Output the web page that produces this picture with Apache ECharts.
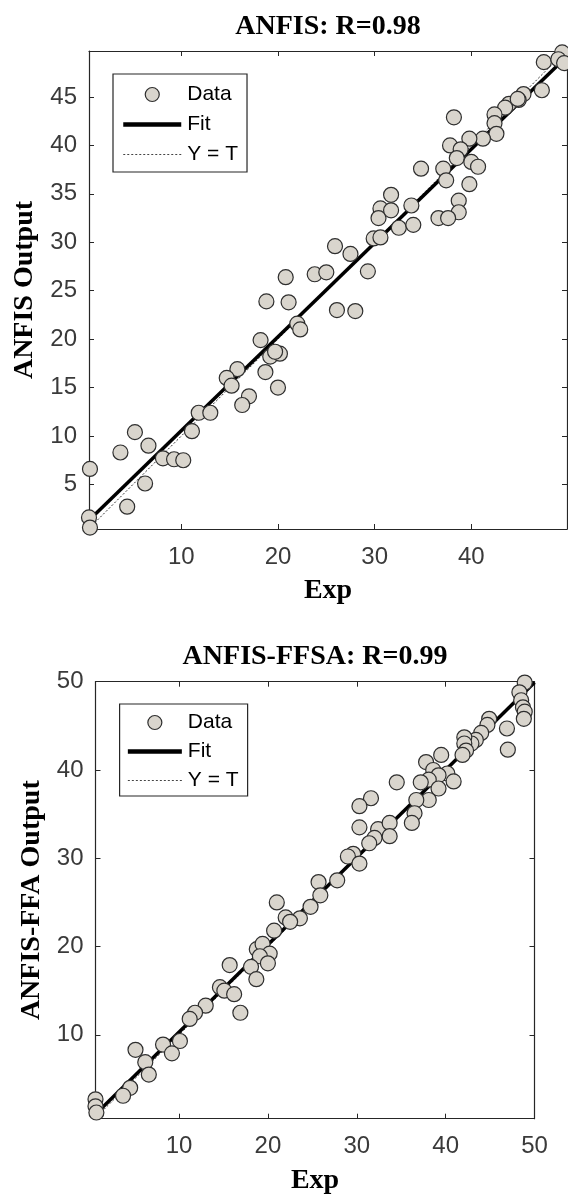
<!DOCTYPE html>
<html>
<head>
<meta charset="utf-8">
<script src="https://cdn.jsdelivr.net/npm/echarts@6/dist/echarts.min.js"></script>
<style>
html,body{margin:0;padding:0;background:#fff;}
#chart{width:568px;height:1198px;}
</style>
</head>
<body>
<div id="chart"></div>
<script>
// ---------- Data ----------
const topTitle = 'ANFIS: R=0.98';
const botTitle = 'ANFIS-FFSA: R=0.99';
const topYName = 'ANFIS Output';
const botYName = 'ANFIS-FFA Output';
const xName = 'Exp';
const legendNames = ['Data', 'Fit', 'Y = T'];

const topExp = [49.4,47.5,49.0,49.6,47.3,45.4,44.9,43.9,43.5,42.4,42.4,42.6,41.2,39.8,38.2,37.8,38.9,38.5,40.0,40.7,37.1,34.8,37.4,39.8,38.7,38.7,36.6,37.6,31.7,30.6,30.4,31.7,33.8,32.5,34.0,29.9,30.6,25.9,27.5,29.3,23.8,25.0,20.8,18.8,21.1,26.1,28.0,22.0,22.3,18.2,19.2,20.2,19.7,18.7,20.0,15.8,14.7,15.2,17.0,16.3,11.8,13.0,11.1,5.2,6.6,8.1,9.25,10.2,3.7,0.55,6.25,4.4,0.45,0.55,44.8];
const topOut = [49.6,48.6,48.9,48.5,45.7,45.3,44.7,44.3,43.9,43.2,42.3,41.2,40.7,40.7,42.9,40.0,39.6,38.7,38.3,37.8,37.6,37.6,36.4,36.0,34.3,33.1,32.5,32.5,34.9,33.5,32.5,33.3,33.8,31.5,31.8,30.4,30.5,29.6,28.8,27.0,26.7,26.9,26.4,23.9,23.8,23.0,22.9,21.6,21.0,19.9,18.2,18.5,18.7,16.6,15.0,16.9,16.0,15.2,14.1,13.2,12.4,12.4,10.5,10.4,9.0,7.7,7.6,7.5,8.3,6.6,5.1,2.7,1.6,0.55,44.8];

const botExp = [48.9,48.3,48.5,48.7,48.9,48.8,46.9,47.0,44.9,44.7,44.0,43.4,42.9,42.1,42.1,42.3,41.9,39.5,37.8,38.6,40.2,39.2,40.9,38.1,37.2,39.2,38.1,36.7,36.5,36.2,34.5,31.6,30.3,30.3,32.4,33.7,33.7,32.0,31.4,29.6,29.0,30.3,27.8,25.7,25.9,21.0,24.8,22.0,23.6,22.5,20.7,18.75,19.4,20.2,19.1,20.0,18.1,18.7,15.7,14.6,15.1,16.2,16.9,13.0,11.8,11.2,10.1,8.2,9.2,5.1,6.2,6.6,4.5,3.7,0.6,0.6,0.7];
const botOut = [49.9,48.8,47.9,47.1,46.6,45.8,44.7,42.3,45.8,45.1,44.2,43.4,43.0,43.7,43.0,42.2,41.7,41.7,40.9,40.0,39.6,39.4,38.7,38.9,38.6,37.9,36.6,36.6,35.1,34.0,38.6,36.8,35.9,33.5,33.3,34.0,32.5,32.3,31.7,30.5,30.2,29.4,27.5,27.3,25.8,25.0,24.5,23.3,23.2,22.8,21.8,19.7,20.3,19.2,18.9,18.1,17.7,16.3,17.9,15.4,15.0,14.6,12.5,13.3,12.5,11.8,9.3,8.9,7.9,8.3,6.9,5.5,4.0,3.1,2.7,1.9,1.2];

// fit line end points and Y = T end points
const topFit = [[0.45, 1.3], [49.9, 49.2]];
const topYT  = [[0.45, 0.45], [49.75, 49.75]];
const botFit = [[0.6, 1.0], [50, 49.9]];
const botYT  = [[0.6, 0.6], [50, 50]];

// axis ranges and ticks
const topXRange = [0.45, 49.9];
const topYRange = [0.4, 49.75];
const botXRange = [0.6, 50];
const botYRange = [0.5, 50];
const topXTicks = [10, 20, 30, 40];
const topYTicks = [5, 10, 15, 20, 25, 30, 35, 40, 45];
const botXTicks = [10, 20, 30, 40, 50];
const botYTicks = [10, 20, 30, 40, 50];

// ---------- Chart ----------
const AX = '#262626';
const LBL = '#3a3a3a';
const SERIF = '"Liberation Serif", "Times New Roman", serif';
const SANS = '"Liberation Sans", Arial, sans-serif';
const MARK_FILL = '#d9d5cd';
const MARK_EDGE = '#2e2e2e';
const HIDDEN = {color: 'rgba(0,0,0,0)', borderWidth: 0, borderColor: 'rgba(0,0,0,0)', opacity: 0};

function zip(a, b) { return a.map((v, i) => [v, b[i]]); }

function xAxes(gi, range, ticks) {
  const common = {
    gridIndex: gi, type: 'value', min: range[0], max: range[1],
    splitLine: {show: false},
    axisLine: {show: true, onZero: false, lineStyle: {color: AX, width: 1.2}},
    axisTick: {show: true, inside: true, length: 5, customValues: ticks, lineStyle: {color: AX, width: 1}}
  };
  return [
    Object.assign({}, common, {
      position: 'bottom',
      axisLabel: {show: true, customValues: ticks, margin: 16, fontSize: 24, fontFamily: SANS, color: LBL},
      name: xName, nameLocation: 'middle', nameGap: 48,
      nameTextStyle: {fontFamily: SERIF, fontWeight: 'bold', fontSize: 28, color: '#000'}
    }),
    Object.assign({}, common, {position: 'top', axisLabel: {show: false}})
  ];
}
function yAxes(gi, range, ticks, name, gap) {
  const common = {
    gridIndex: gi, type: 'value', min: range[0], max: range[1],
    splitLine: {show: false},
    axisLine: {show: true, onZero: false, lineStyle: {color: AX, width: 1.2}},
    axisTick: {show: true, inside: true, length: 5, customValues: ticks, lineStyle: {color: AX, width: 1}}
  };
  return [
    Object.assign({}, common, {
      position: 'left',
      axisLabel: {show: true, customValues: ticks, margin: 12, fontSize: 24, fontFamily: SANS, color: LBL},
      name: name, nameLocation: 'middle', nameGap: gap, nameRotate: 90,
      nameTextStyle: {fontFamily: SERIF, fontWeight: 'bold', fontSize: 28, color: '#000'}
    }),
    Object.assign({}, common, {position: 'right', axisLabel: {show: false}})
  ];
}

function seriesFor(xi, yi, exp, out, fit, yt) {
  return [
    {
      name: legendNames[0], type: 'scatter', xAxisIndex: xi, yAxisIndex: yi,
      data: zip(exp, out), symbol: 'circle', symbolSize: 15, z: 5,
      itemStyle: {color: MARK_FILL, borderColor: MARK_EDGE, borderWidth: 1.2, opacity: 1},
      emphasis: {disabled: true}
    },
    {
      name: legendNames[1], type: 'line', xAxisIndex: xi, yAxisIndex: yi,
      data: fit, symbol: 'none', showSymbol: false, z: 3, silent: true,
      itemStyle: {color: '#000'},
      lineStyle: {color: '#000', width: 3.5}
    },
    {
      name: legendNames[2], type: 'line', xAxisIndex: xi, yAxisIndex: yi,
      data: yt, symbol: 'none', showSymbol: false, z: 2, silent: true,
      itemStyle: {color: '#333'},
      lineStyle: {color: '#333', width: 1, type: [2, 2]}
    }
  ];
}

function legendFor(left, top, pad, gap, iw) {
  return {
    left: left, top: top, orient: 'vertical', padding: pad, itemGap: gap,
    itemWidth: iw, itemHeight: 14, selectedMode: false,
    borderColor: AX, borderWidth: 1.2, backgroundColor: '#fff',
    textStyle: {fontFamily: SANS, fontSize: 21, color: '#000', padding: [0, 0, 0, 1]},
    data: [
      {name: legendNames[0], icon: 'circle', itemStyle: {color: MARK_FILL, borderColor: MARK_EDGE, borderWidth: 1.2}},
      {name: legendNames[1], itemStyle: HIDDEN, lineStyle: {color: '#000', width: 4.5}},
      {name: legendNames[2], itemStyle: HIDDEN, lineStyle: {color: '#444', width: 1, type: [2, 2]}}
    ]
  };
}

const chart = echarts.init(document.getElementById('chart'), null, {renderer: 'canvas'});
chart.setOption({
  animation: false,
  backgroundColor: '#fff',
  title: [
    {text: topTitle, left: 328, top: 13, textAlign: 'center', padding: 0,
     textStyle: {fontFamily: SERIF, fontWeight: 'bold', fontSize: 28, color: '#000'}},
    {text: botTitle, left: 315, top: 643, textAlign: 'center', padding: 0,
     textStyle: {fontFamily: SERIF, fontWeight: 'bold', fontSize: 28, color: '#000'}}
  ],
  grid: [
    {left: 89, top: 51, width: 478, height: 478, containLabel: false},
    {left: 95.5, top: 681.7, width: 439, height: 437, containLabel: false}
  ],
  xAxis: xAxes(0, topXRange, topXTicks).concat(xAxes(1, botXRange, botXTicks)),
  yAxis: yAxes(0, topYRange, topYTicks, topYName, 50).concat(yAxes(1, botYRange, botYTicks, botYName, 48)),
  legend: [
    legendFor(113, 74, [10, 9, 7, 8], 9, 58),
    legendFor(119.6, 704, [8, 9, 5, 6], 8, 54)
  ],
  series: seriesFor(0, 0, topExp, topOut, topFit, topYT).concat(seriesFor(2, 2, botExp, botOut, botFit, botYT))
});
</script>
</body>
</html>
